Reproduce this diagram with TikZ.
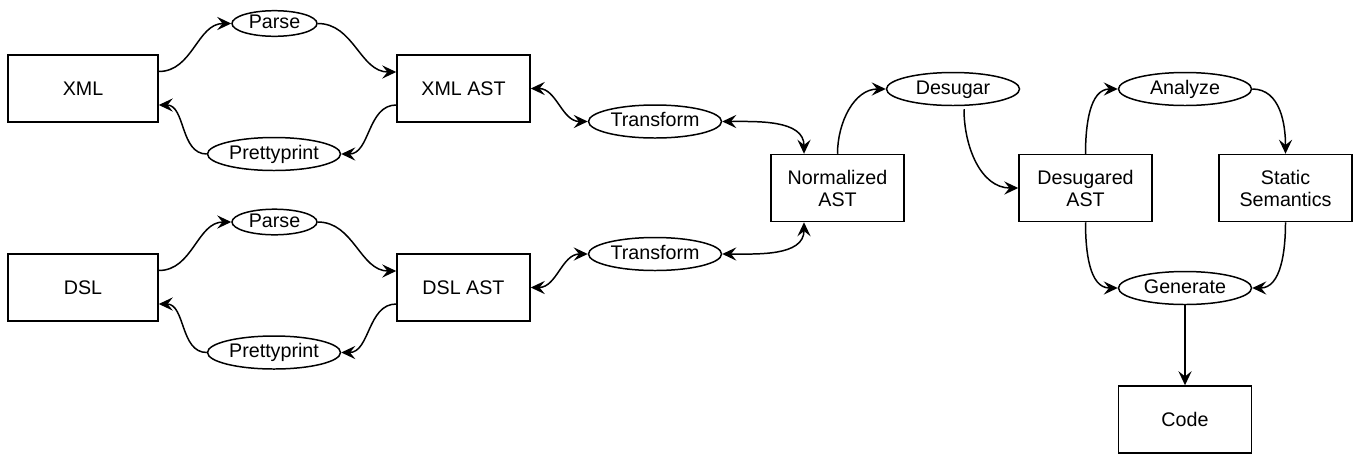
\documentclass[tikz,border=0pt]{standalone}
\usepackage{fontspec}
\setmainfont{Liberation Sans}
\usepackage{tikz}
\usetikzlibrary{shapes,arrows, arrows.meta}
\usetikzlibrary {positioning}
\usetikzlibrary{calc}
\tikzstyle{boxNode} = [rectangle, draw, line width=0.85pt, minimum width=2.66cm, minimum height=1.34cm, align=center, inner sep=0pt]
\tikzstyle{actionNode} = [ellipse, draw, line width=0.85pt, minimum width=2.66cm, minimum height=0.66cm, inner sep=0pt, text height=8pt, text depth=2.3pt]
\tikzstyle{oneWay} = [line width=0.85pt, -{Stealth[length=8pt, width=7.5pt, inset=3pt]}]
\tikzstyle{twoWay} = [line width=0.85pt, {Stealth[length=8pt, width=7.5pt, inset=3pt]}-{Stealth[length=8pt, width=7.5pt, inset=3pt]}]

\begin{document}
\begin{tikzpicture}[font=\fontsize{11.2}{12.5}\selectfont]
	\useasboundingbox (0,0) rectangle (27.06,-9.06);
	
	\node[boxNode, minimum width=3cm](Box-XML) at (1.66,-1.77){XML};
	
	\node[boxNode]at([xshift=7.61cm]Box-XML.center)(Box-XMLAST){XML AST};
	
	\node[actionNode, minimum width=1.7cm, minimum height=0.46cm]at([xshift=3.83cm, yshift=1.3cm]Box-XML.center)(Act-ParseXML){Parse};
	
	\node[actionNode]at([xshift=3.82cm, yshift=-1.31cm]Box-XML.center)(Act-PrettyXML){Prettyprint};
	
	\node[boxNode, minimum width=3cm]at([yshift=-3.98cm]Box-XML.center)(Box-DSL){DSL};
	
	\node[boxNode]at([xshift=7.61cm]Box-DSL.center)(Box-DSLAST){DSL AST};
	
	\node[actionNode, minimum width=1.7cm, minimum height=0.46cm]at([xshift=3.83cm, yshift=1.31cm]Box-DSL.center)(Act-ParseDSL){Parse};
	
	\node[actionNode]at([xshift=3.82cm, yshift=-1.3cm]Box-DSL.center)(Act-PrettyDSL){Prettyprint};
	
	\node[actionNode]at([xshift=3.83cm, yshift=-0.66cm]Box-XMLAST.center)(Act-TransXML){Transform};
	
	\node[actionNode]at([xshift=3.83cm, yshift=0.67cm]Box-DSLAST.center)(Act-TransDSL){Transform};
	
	\node[boxNode]at([xshift=7.48cm, yshift=-1.99cm]Box-XMLAST.center)(Box-Norm){Normalized\\AST};
	
	\node[actionNode]at([xshift=2.31cm, yshift=1.98cm]Box-Norm.center)(Act-Desugar){Desugar};
	
	\node[boxNode]at([xshift=4.96cm]Box-Norm.center)(Box-Desugared){Desugared\\AST};
	
	\node[actionNode]at([xshift=1.99cm, yshift=1.98cm]Box-Desugared.center)(Act-Analyze){Analyze};
	
	\node[boxNode]at([xshift=4cm]Box-Desugared.center)(Box-Static){Static\\Semantics};
	
	\node[actionNode]at([xshift=1.99cm, yshift=-2cm]Box-Desugared.center)(Act-Generate){Generate};
	
	\node[boxNode]at([yshift=-2.63cm]Act-Generate.center)(Box-Code){Code};
	
	
	\draw[oneWay] ([yshift=0.34cm]Box-XML.east) to[out=0, in=180] (Act-ParseXML.west);
	\draw[oneWay] (Act-ParseXML.east) to[out=0, in=180] ([yshift=0.33cm]Box-XMLAST.west);
	\draw[oneWay] ([yshift=-0.33cm]Box-XMLAST.west) to[out=180, in=0] (Act-PrettyXML.east);
	\draw[oneWay] (Act-PrettyXML.west) to[out=180, in=0] ([yshift=-0.33cm]Box-XML.east);
	
	\draw[oneWay] ([yshift=0.34cm]Box-DSL.east) to[out=0, in=180] (Act-ParseDSL.west);
	\draw[oneWay] (Act-ParseDSL.east) to[out=0, in=180] ([yshift=0.33cm]Box-DSLAST.west);
	\draw[oneWay] ([yshift=-0.33cm]Box-DSLAST.west) to[out=180, in=0] (Act-PrettyDSL.east);
	\draw[oneWay] (Act-PrettyDSL.west) to[out=180, in=0] ([yshift=-0.33cm]Box-DSL.east);
	
	\draw[twoWay] (Box-XMLAST.east) to[out=0, in=180] (Act-TransXML.west);
	\draw[twoWay] (Act-TransXML.east) to[out=0, in=90] ([xshift=-0.67cm]Box-Norm.north);
	\draw[twoWay] (Box-DSLAST.east) to[out=0, in=180] (Act-TransDSL.west);
	\draw[twoWay] (Act-TransDSL.east) to[out=0, in=-90] ([xshift=-0.67cm]Box-Norm.south);
	
	\draw[oneWay] (Box-Norm.north) to[out=90, in=180] (Act-Desugar.west);
	\draw[oneWay] ([xshift=0.22cm, yshift=-0.06cm]Act-Desugar.south) to[out=-90, in=180] (Box-Desugared.west);
	\draw[oneWay] (Box-Desugared.north) to[out=90, in=180] (Act-Analyze.west);
	\draw[oneWay] (Act-Analyze.east) to[out=0, in=90] (Box-Static.north);
	\draw[oneWay] (Box-Desugared.south) to[out=-90, in=180] (Act-Generate.west);
	\draw[oneWay] (Box-Static.south) to[out=-90, in=0] (Act-Generate.east);
	\draw[oneWay] (Act-Generate.south) -- (Box-Code.north);

\end{tikzpicture}
\end{document}
